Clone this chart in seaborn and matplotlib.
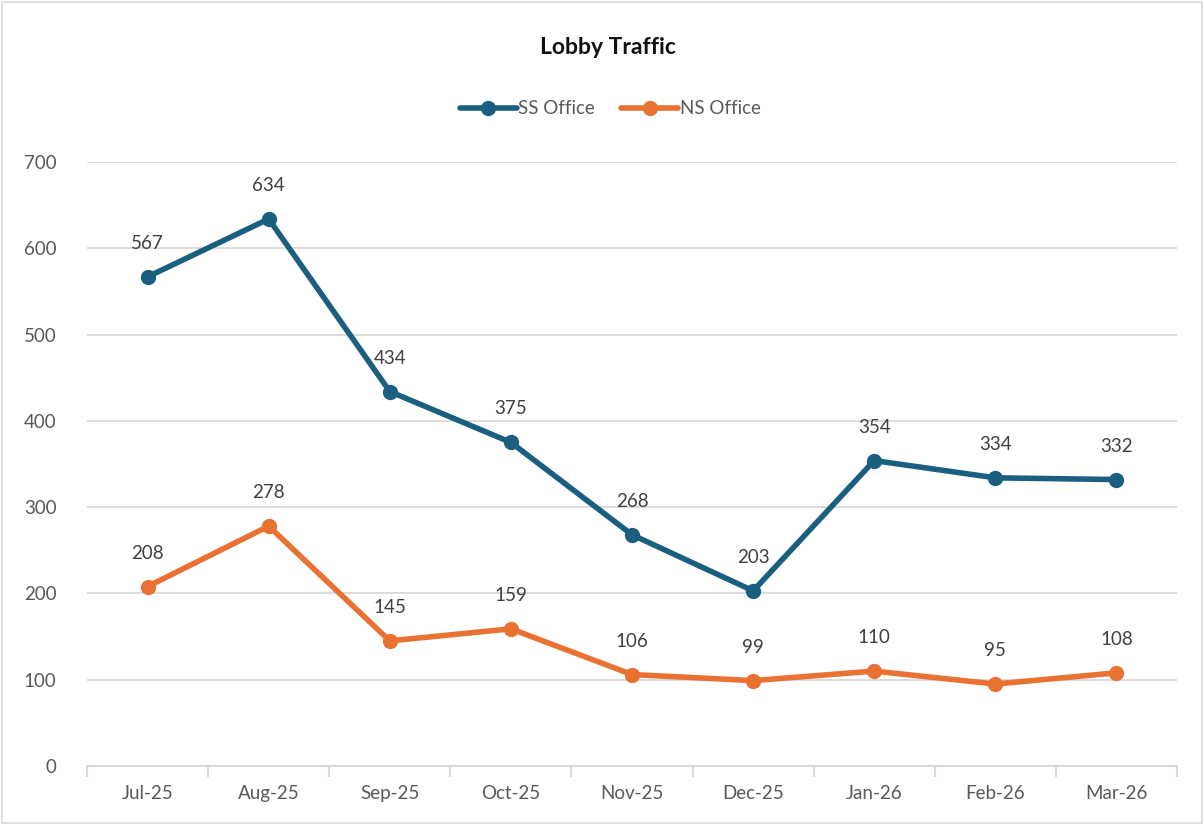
import matplotlib
matplotlib.use("Agg")
import matplotlib.pyplot as plt
import seaborn as sns
import pandas as pd
import numpy as np
from matplotlib.lines import Line2D

months = ["Jul-25", "Aug-25", "Sep-25", "Oct-25", "Nov-25", "Dec-25", "Jan-26", "Feb-26", "Mar-26"]
ss_office = [567, 634, 434, 375, 268, 203, 354, 334, 332]
ns_office = [208, 278, 145, 159, 106, 99, 110, 95, 108]
series_names = ["SS Office", "NS Office"]
colors = ["#1A5F7F", "#E97132"]

sns.set_theme(style="white")
plt.rcParams['font.family'] = ['Lato', 'DejaVu Sans']

df = pd.DataFrame({
    "idx": list(range(len(months))) * 2,
    "value": ss_office + ns_office,
    "series": [series_names[0]] * len(months) + [series_names[1]] * len(months),
})

fig = plt.figure(figsize=(12.04, 8.25), dpi=100)
ax = fig.add_axes([0.0723, 0.0715, 0.9776 - 0.0723, 0.8036 - 0.0715])

sns.lineplot(data=df, x="idx", y="value", hue="series", palette=colors,
             marker="o", markersize=11, markeredgewidth=0, linewidth=4, ax=ax,
             legend=False)

for vals in (ss_office, ns_office):
    for i, v in enumerate(vals):
        ax.annotate(str(v), (i, v), xytext=(0, 18), textcoords="offset points",
                    ha="center", va="bottom", fontsize=13.5, color="#404040")

ax.set_xlim(-0.5, len(months) - 0.5)
ax.set_ylim(0, 700)
ax.set_yticks(range(0, 701, 100))
ax.set_xticks(range(len(months)))
ax.set_xticklabels(months)
ax.set_xticks(np.arange(-0.5, len(months), 1), minor=True)
ax.tick_params(axis="x", which="major", bottom=True, length=0, pad=14, labelsize=13.5, labelcolor="#595959")
ax.tick_params(axis="x", which="minor", bottom=True, length=8, width=1.5, color="#D9D9D9", direction="out")
ax.tick_params(axis="y", length=0, pad=22, labelsize=13.5, labelcolor="#595959")
ax.yaxis.grid(True, color="#D9D9D9", linewidth=1.3)
ax.set_axisbelow(True)
for s in ["top", "right", "left"]:
    ax.spines[s].set_visible(False)
ax.spines["bottom"].set_color("#D9D9D9")
ax.spines["bottom"].set_linewidth(1.5)
ax.set_xlabel("")
ax.set_ylabel("")

fig.text(0.505, 0.943, "Lobby Traffic", ha="center", va="center",
         fontsize=16.5, fontweight="bold", color="#111111")

handles = [Line2D([0], [0], color=c, lw=4, marker="o", markersize=11, markeredgewidth=0) for c in colors]
fig.legend(handles, series_names, loc="center", bbox_to_anchor=(0.507, 0.868), ncol=2,
           frameon=False, fontsize=13.5, handlelength=3.0, handletextpad=0.1,
           columnspacing=1.4, labelcolor="#595959")

border = plt.Rectangle((0.002, 0.002), 0.996, 0.996, transform=fig.transFigure,
                       fill=False, edgecolor="#D9D9D9", linewidth=1.2)
fig.patches.append(border)

fig.savefig("out.png", dpi=100)
